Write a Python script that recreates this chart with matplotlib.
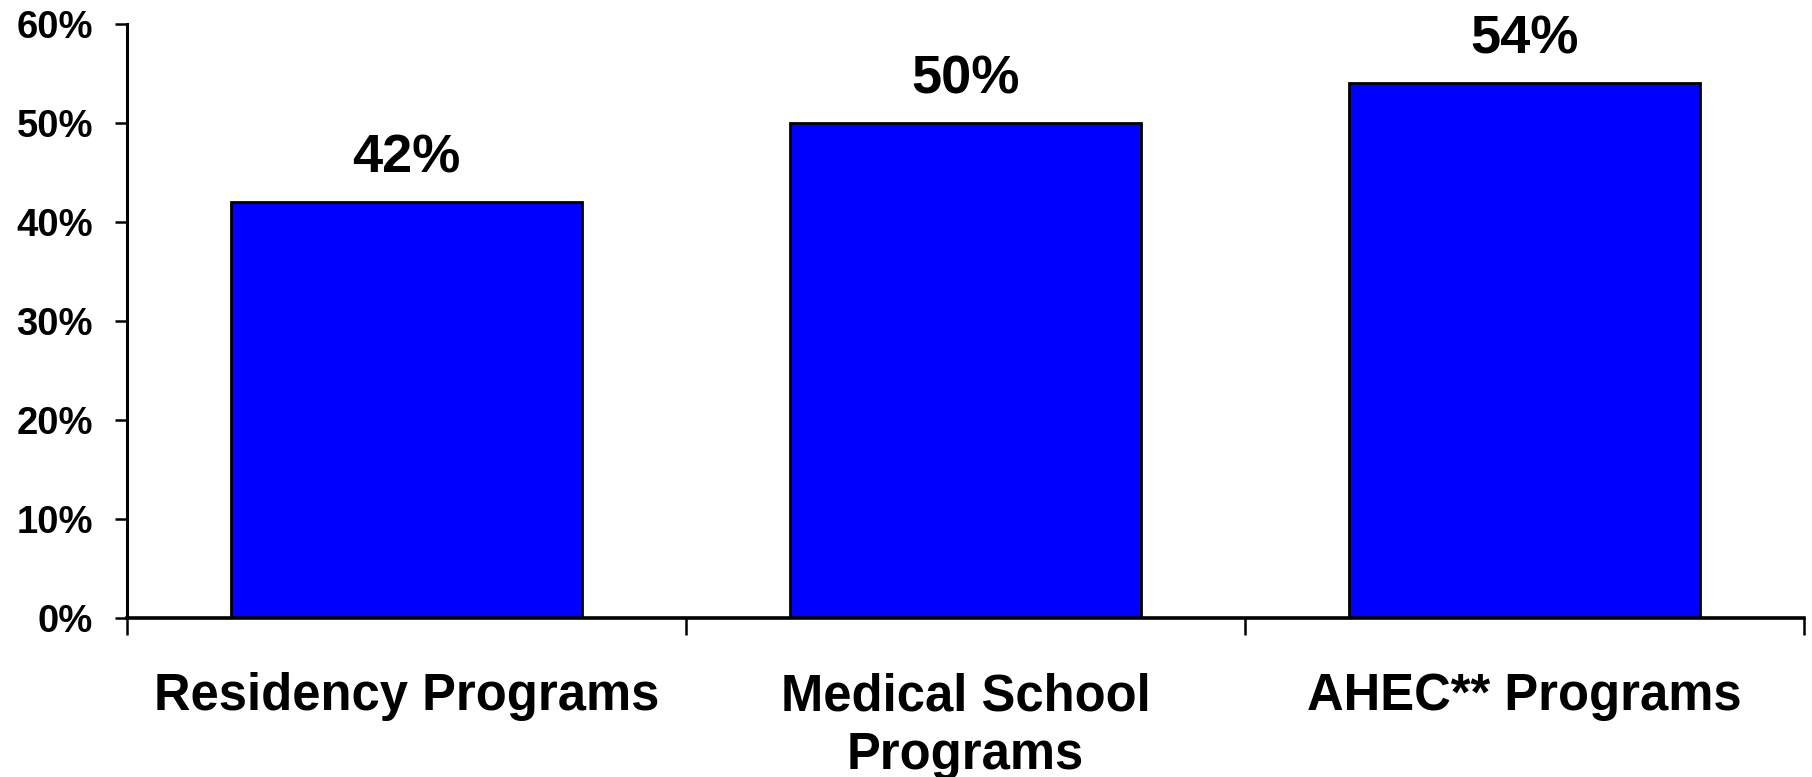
import matplotlib
matplotlib.use("Agg")
import matplotlib.pyplot as plt
import numpy as np

# ── data ───────────────────────────────────────────────────────────────────────
programs = ["Residency Programs", "Medical School\nPrograms", "AHEC** Programs"]
share_pct = [42, 50, 54]
y_ticks = [0, 10, 20, 30, 40, 50, 60]

plt.rcParams["font.family"] = ["Liberation Sans", "DejaVu Sans"]
plt.rcParams["font.weight"] = "bold"

fig = plt.figure(figsize=(18.12, 7.77), dpi=100)
ax = fig.add_axes([127 / 1812, 1 - 618 / 777, (1804 - 127) / 1812, (618 - 24) / 777])

x = np.arange(len(programs))
bars = ax.bar(x, share_pct, width=0.628, color="#0000FF",
              edgecolor="black", linewidth=2.0, zorder=2)

# value labels above each bar
for bar, v in zip(bars, share_pct):
    ax.text(bar.get_x() + bar.get_width() / 2, v + 1.9, f"{v}%",
            ha="center", va="bottom", fontsize=39, fontweight="bold")

ax.set_xlim(-0.5, len(programs) - 0.5)
ax.set_ylim(0, 60)
ax.set_yticks(y_ticks)
ax.set_yticklabels([f"{t}%" for t in y_ticks])

# category names centred under bars, tick marks on the category boundaries
ax.set_xticks(x)
ax.set_xticklabels(programs, fontsize=36.5, fontweight="bold", linespacing=1.27)
ax.set_xticks(np.arange(-0.5, len(programs)), minor=True)
ax.tick_params(axis="x", which="major", length=0, pad=39)
ax.tick_params(axis="x", which="minor", length=12, width=1.8, direction="out")
ax.tick_params(axis="y", length=9, width=1.8, direction="out", pad=15.5, labelsize=27.5)

for side in ["top", "right"]:
    ax.spines[side].set_visible(False)
ax.spines["left"].set_linewidth(2.2)
ax.spines["bottom"].set_linewidth(2.6)

fig.savefig("out.png", dpi=100)
